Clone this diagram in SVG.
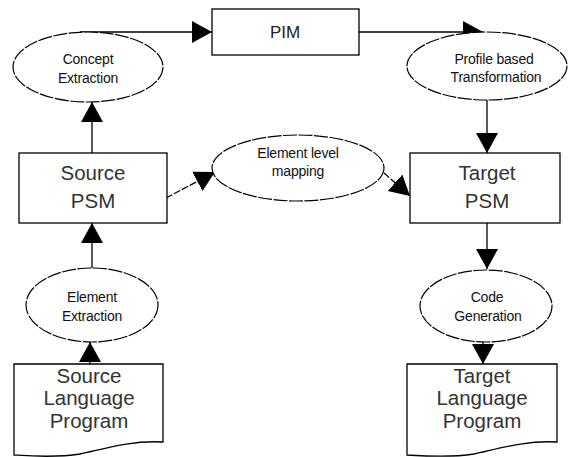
<svg xmlns="http://www.w3.org/2000/svg" width="570" height="457" viewBox="0 0 570 457">
  <style>
    .box { fill: #ffffff; stroke: #000000; stroke-width: 1.3; }
    .proc { fill: #ffffff; stroke: #000000; stroke-width: 1.2; stroke-dasharray: 14 1.5; }
    .big { font-family: "Liberation Sans", Arial, sans-serif; font-size: 20.5px; fill: #333333; text-anchor: middle; }
    .pim { font-family: "Liberation Sans", Arial, sans-serif; font-size: 17px; fill: #222222; text-anchor: middle; }
    .small { font-family: "Liberation Sans", Arial, sans-serif; font-size: 14px; fill: #111111; text-anchor: middle; letter-spacing: -0.2px; }
    .edge { fill: none; stroke: #000000; stroke-width: 1.3; marker-end: url(#head); }
    .dashed { stroke-dasharray: 7 2; }
  </style>
  <defs>
    <marker id="head" markerUnits="userSpaceOnUse" markerWidth="22" markerHeight="24" refX="20" refY="11" orient="auto">
      <path d="M0,0 L20,11 L0,22 Z" fill="#000000"/>
    </marker>
  </defs>

  <!-- connectors -->
  <g id="connectors">
    <path class="edge" d="M80,32 H212"/>
    <path class="edge" d="M359,32 H483"/>
    <path class="edge" d="M92,153 V102"/>
    <path class="edge" d="M487,100 V153"/>
    <path class="edge" d="M92,268 V223"/>
    <path class="edge" d="M487,223 V269"/>
    <path class="edge" d="M90,364 V342"/>
    <path class="edge" d="M483,342 V364"/>
    <path class="edge dashed" d="M166,198 L215,172"/>
    <path class="edge dashed" d="M384,173 L410,196"/>
  </g>

  <!-- PIM -->
  <g id="pim">
    <rect class="box" x="212" y="9" width="147" height="46"/>
    <text class="pim" x="285" y="38">PIM</text>
  </g>

  <!-- Concept Extraction -->
  <g id="concept-extraction">
    <ellipse class="proc" cx="88" cy="67" rx="75" ry="35"/>
    <text class="small" x="88" y="64">Concept</text>
    <text class="small" x="88" y="83">Extraction</text>
  </g>

  <!-- Profile based Transformation -->
  <g id="profile-transformation">
    <ellipse class="proc" cx="487" cy="66" rx="80" ry="34"/>
    <text class="small" x="494" y="64">Profile based</text>
    <text class="small" x="496" y="82">Transformation</text>
  </g>

  <!-- Source PSM -->
  <g id="source-psm">
    <rect class="box" x="19" y="153" width="148" height="70"/>
    <text class="big" x="93" y="180">Source</text>
    <text class="big" x="93" y="208">PSM</text>
  </g>

  <!-- Element level mapping -->
  <g id="element-mapping">
    <ellipse class="proc" cx="298" cy="168" rx="86" ry="33"/>
    <text class="small" x="298" y="158">Element level</text>
    <text class="small" x="298" y="176">mapping</text>
  </g>

  <!-- Target PSM -->
  <g id="target-psm">
    <rect class="box" x="410" y="153" width="150" height="70"/>
    <text class="big" x="487" y="180">Target</text>
    <text class="big" x="487" y="208">PSM</text>
  </g>

  <!-- Element Extraction -->
  <g id="element-extraction">
    <ellipse class="proc" cx="92" cy="305" rx="66" ry="37"/>
    <text class="small" x="92" y="302">Element</text>
    <text class="small" x="92" y="321">Extraction</text>
  </g>

  <!-- Code Generation -->
  <g id="code-generation">
    <ellipse class="proc" cx="486" cy="306" rx="66" ry="36"/>
    <text class="small" x="487" y="302">Code</text>
    <text class="small" x="488" y="321">Generation</text>
  </g>

  <!-- Source Language Program -->
  <g id="source-program">
    <path class="box" d="M14,364 H163 V442 C130,440 100,450 80,454 C55,458 30,456 14,455 Z"/>
    <text class="big" x="89" y="383">Source</text>
    <text class="big" x="89" y="405">Language</text>
    <text class="big" x="89" y="428">Program</text>
  </g>

  <!-- Target Language Program -->
  <g id="target-program">
    <path class="box" d="M407,364 H557 V442 C524,440 494,450 474,454 C449,458 424,456 407,455 Z"/>
    <text class="big" x="482" y="383">Target</text>
    <text class="big" x="482" y="405">Language</text>
    <text class="big" x="482" y="428">Program</text>
  </g>
</svg>
